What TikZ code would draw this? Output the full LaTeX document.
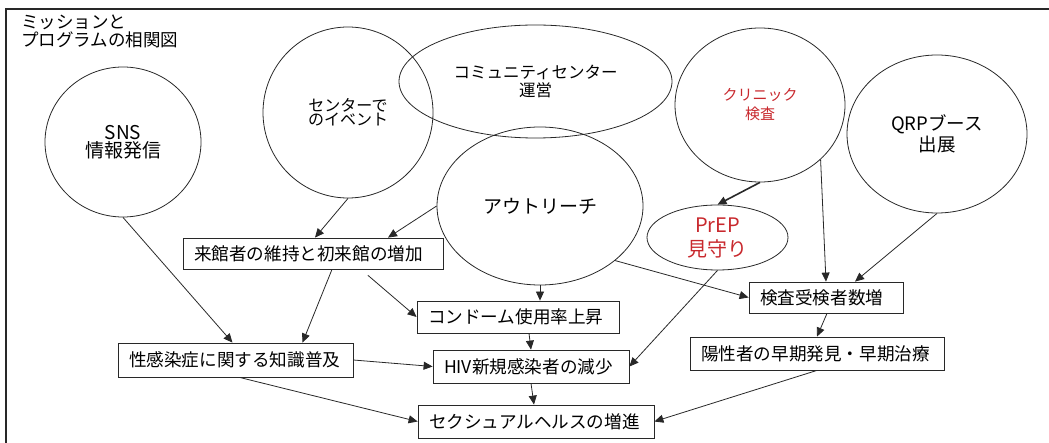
\documentclass[tikz,border=0pt]{standalone}
\usepackage{fontspec}
\setmainfont{Noto Sans CJK JP}
\usetikzlibrary{shapes.geometric,arrows.meta}
\definecolor{redtxt}{RGB}{200,40,45}
\definecolor{ln}{RGB}{40,40,40}
\begin{document}
\begin{tikzpicture}[x=1pt,y=-1pt,
 circ/.style={draw=ln,line width=0.8pt,ellipse,inner sep=0pt,align=center},
 box/.style={draw=ln,line width=0.8pt,rectangle,inner xsep=11pt,inner ysep=0pt,align=left,font=\fontsize{17.6}{20}\selectfont},
 arr/.style={draw=ln,line width=0.8pt,-{Triangle[length=9pt,width=8pt]}},
]
\useasboundingbox (0,0) rectangle (1049,443);
\draw[line width=1.4pt,ln] (6,443) -- (6,9) -- (1049,9);

\node[anchor=north west,align=left,inner sep=0pt,font=\fontsize{17.5}{18}\selectfont] (title) at (21,15) {ミッションと\\プログラムの相関図};

% circles
\node[circ,minimum width=156pt,minimum height=150pt,font=\fontsize{19}{18}\selectfont] (sns) at (123,142) {SNS\\情報発信};
\node[circ,minimum width=170pt,minimum height=171pt,font=\fontsize{16}{14}\selectfont] (evt) at (348,112.5) {センターで\\のイベント};
\node[circ,minimum width=273pt,minimum height=113pt,font=\fontsize{16.5}{18}\selectfont] (comm) at (535.5,81.5) {コミュニティセンター\\運営};
\node[circ,minimum width=206pt,minimum height=158pt,font=\fontsize{19}{20}\selectfont] (out) at (540,206) {アウトリーチ};
\node[circ,minimum width=170pt,minimum height=154pt,text=redtxt,font=\fontsize{15}{19}\selectfont] (clinic) at (760,105) {クリニック\\検査};
\node[circ,minimum width=180pt,minimum height=158pt,font=\fontsize{18.5}{21}\selectfont] (qrp) at (937,134) {QRPブース\\出展};
\node[circ,minimum width=141pt,minimum height=65pt,text=redtxt,font=\fontsize{20}{24}\selectfont] (prep) at (717.5,237.5) {PrEP\\見守り};

% boxes
\node[box,text width=238pt,minimum height=31pt] (A) at (313,253.5) {来館者の維持と初来館の増加};
\node[box,text width=213pt,minimum height=34pt] (B) at (235.5,360) {性感染症に関する知識普及};
\node[box,text width=180pt,minimum height=32pt] (C) at (518,317) {コンドーム使用率上昇};
\node[box,text width=174pt,minimum height=33pt] (D) at (531,366.5) {HIV新規感染者の減少};
\node[box,text width=214pt,minimum height=33pt] (E) at (536,421.5) {セクシュアルヘルスの増進};
\node[box,text width=132pt,minimum height=31pt] (F) at (826,297.5) {検査受検者数増};
\node[box,text width=232pt,minimum height=33pt] (G) at (817,353.5) {陽性者の早期発見・早期治療};

% connectors
\draw[arr] (sns.south) -- ([xshift=-3pt]B.north);
\draw[arr] (evt.south) -- ([xshift=2pt]A.north);
\draw[arr] (out.west) -- ([xshift=75pt]A.north);
\draw[arr] ([xshift=19pt]A.south) -- ([xshift=67pt]B.north);
\draw[arr,shorten <=9pt] ([xshift=48pt]A.south) -- (C.west);
\draw[arr] (out.south) -- ([xshift=22pt]C.north);
\draw[arr] ([xshift=11pt]C.south) -- (D.north);
\draw[arr] (B.east) -- (D.west);
\draw[arr] (D.south) -- ([xshift=-2pt]E.north);
\draw[arr] ([xshift=4pt]B.south) -- (E.west);
\draw[arr] (G.south) -- (E.east);
\draw[arr] (prep.south) -- (D.east);
\draw[arr] (out.-36) -- (F.west);
\draw[arr,line width=1.6pt] (clinic.south) -- (prep.north);
\draw[arr] (clinic.-42.5) -- (F.north);
\draw[arr] (qrp.south) -- ([xshift=29pt]F.north);
\draw[arr] ([xshift=1pt]F.south) -- (G.north);
\end{tikzpicture}
\end{document}
